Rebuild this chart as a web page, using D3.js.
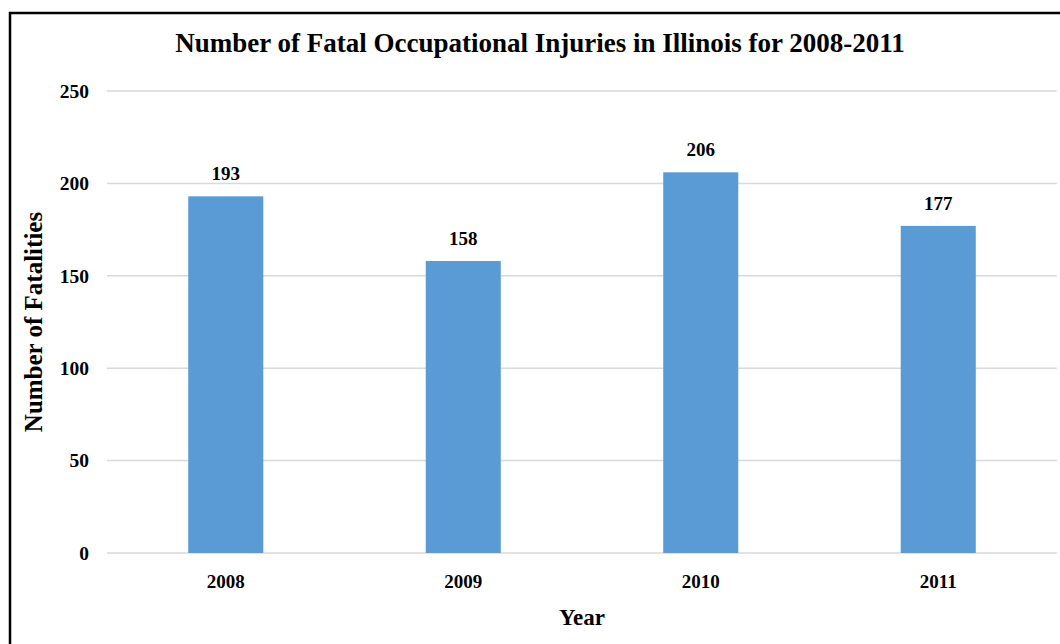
<!DOCTYPE html>
<html>
<head>
<meta charset="utf-8">
<script src="https://cdn.jsdelivr.net/npm/d3@7"></script>
<style>
  html, body { margin: 0; padding: 0; background: #fff; }
  svg { display: block; font-family: "Liberation Serif", "Times New Roman", serif; }
</style>
</head>
<body>
<svg id="chart" width="1060" height="644"></svg>
<script>
// Chart data
const years = ["2008", "2009", "2010", "2011"]
const fatalities = [193, 158, 206, 177]
const yTicks = [0, 50, 100, 150, 200, 250]

const width = 1060
const height = 644
const margin = { top: 91, right: 3, bottom: 91, left: 107 }

const svg = d3.select("#chart")

// Outer frame (left and top edges visible)
svg.append("path")
  .attr("d", `M10,${height} L10,13 L${width},13`)
  .attr("fill", "none")
  .attr("stroke", "#000")
  .attr("stroke-width", 2.5)

const x = d3.scaleBand()
  .domain(years)
  .range([margin.left, width - margin.right])
  .paddingInner(0.684)
  .paddingOuter(0.342)

const y = d3.scaleLinear()
  .domain([0, 250])
  .range([height - margin.bottom, margin.top])

// Gridlines
svg.append("g")
  .selectAll("line")
  .data(yTicks)
  .join("line")
  .attr("x1", margin.left)
  .attr("x2", width - margin.right)
  .attr("y1", d => y(d))
  .attr("y2", d => y(d))
  .attr("stroke", "#d9d9d9")
  .attr("stroke-width", 1.5)

// Y tick labels
svg.append("g")
  .selectAll("text")
  .data(yTicks)
  .join("text")
  .attr("x", 89)
  .attr("y", d => y(d))
  .attr("dy", "0.35em")
  .attr("text-anchor", "end")
  .attr("font-size", "19.5px")
  .attr("font-weight", "bold")
  .attr("fill", "#000")
  .text(d => d)

// Bars
svg.append("g")
  .selectAll("rect")
  .data(fatalities)
  .join("rect")
  .attr("x", (d, i) => x(years[i]))
  .attr("y", d => y(d))
  .attr("width", x.bandwidth())
  .attr("height", d => y(0) - y(d))
  .attr("fill", "#5b9bd5")

// Value labels
svg.append("g")
  .selectAll("text")
  .data(fatalities)
  .join("text")
  .attr("x", (d, i) => x(years[i]) + x.bandwidth() / 2)
  .attr("y", d => y(d) - 16)
  .attr("text-anchor", "middle")
  .attr("font-size", "19px")
  .attr("font-weight", "bold")
  .attr("fill", "#000")
  .text(d => d)

// X tick labels
svg.append("g")
  .selectAll("text")
  .data(years)
  .join("text")
  .attr("x", d => x(d) + x.bandwidth() / 2)
  .attr("y", y(0) + 35)
  .attr("text-anchor", "middle")
  .attr("font-size", "19px")
  .attr("font-weight", "bold")
  .attr("fill", "#000")
  .text(d => d)

// Title
svg.append("text")
  .attr("x", 540)
  .attr("y", 52)
  .attr("text-anchor", "middle")
  .attr("font-size", "27px")
  .attr("font-weight", "bold")
  .attr("fill", "#000")
  .text("Number of Fatal Occupational Injuries in Illinois for 2008-2011")

// Axis titles
svg.append("text")
  .attr("x", 582)
  .attr("y", 625)
  .attr("text-anchor", "middle")
  .attr("font-size", "23px")
  .attr("font-weight", "bold")
  .attr("fill", "#000")
  .text("Year")

svg.append("text")
  .attr("transform", `translate(42, 322) rotate(-90)`)
  .attr("text-anchor", "middle")
  .attr("font-size", "25px")
  .attr("font-weight", "bold")
  .attr("fill", "#000")
  .text("Number of Fatalities")
</script>
</body>
</html>
